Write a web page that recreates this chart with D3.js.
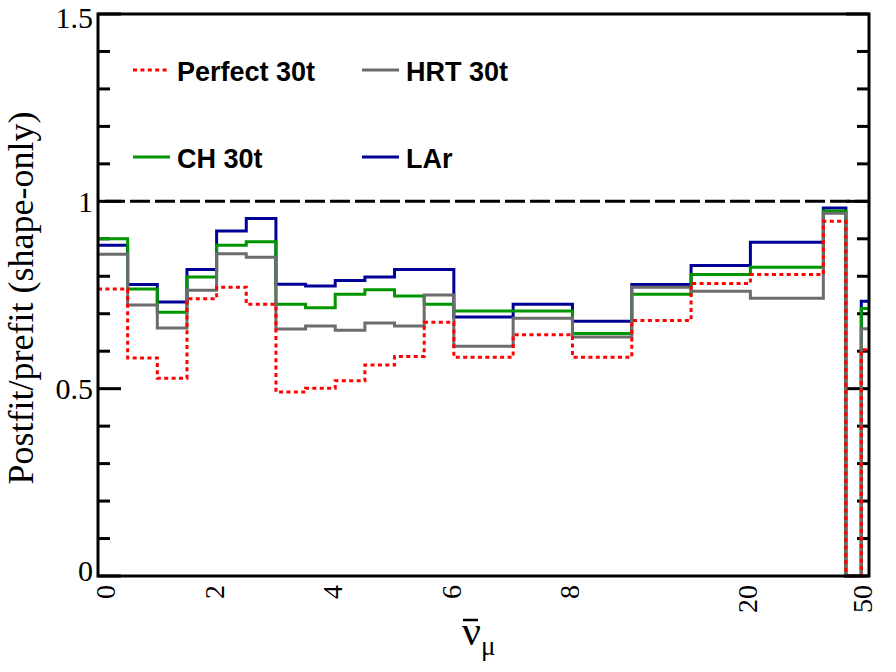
<!DOCTYPE html>
<html>
<head>
<meta charset="utf-8">
<title>Postfit/prefit (shape-only)</title>
<script src="https://d3js.org/d3.v7.min.js"></script>
<style>
  body { margin: 0; background: #fff; }
</style>
</head>
<body>
<div id="chart"></div>
<script>
// bin edges in axis units (the axis is drawn bin-by-bin, labels are custom)
const binEdges = [0, 0.5, 1, 1.5, 2, 2.5, 3, 3.5, 4, 4.5, 5, 5.5, 6, 7, 8, 9, 10, 11, 12.23, 12.61, 12.87, 13];

const perfect30t = [0.766, 0.582, 0.528, 0.740, 0.771, 0.725, 0.491, 0.501, 0.521, 0.563, 0.586, 0.677, 0.584, 0.644, 0.584, 0.682, 0.781, 0.805, 0.947, 0, 0.604];
const hrt30t     = [0.859, 0.723, 0.662, 0.763, 0.860, 0.851, 0.659, 0.667, 0.656, 0.675, 0.667, 0.750, 0.613, 0.688, 0.638, 0.771, 0.760, 0.741, 0.968, 0, 0.660];
const ch30t      = [0.900, 0.766, 0.704, 0.798, 0.883, 0.892, 0.725, 0.716, 0.752, 0.764, 0.747, 0.725, 0.707, 0.707, 0.647, 0.752, 0.805, 0.824, 0.974, 0, 0.714];
const lar        = [0.883, 0.778, 0.731, 0.818, 0.921, 0.954, 0.779, 0.774, 0.789, 0.798, 0.818, 0.818, 0.691, 0.725, 0.680, 0.778, 0.829, 0.891, 0.982, 0, 0.733];

const xTickPos    = [0.17, 2, 4, 6, 8, 11, 12.93];
const xTickLabels = ['0', '2', '4', '6', '8', '20', '50'];
const yTickValues = [0, 0.5, 1, 1.5];
const yTickLabels = ['0', '0.5', '1', '1.5'];

const width = 896, height = 672;
const margin = { top: 14, right: 27, bottom: 96, left: 98 };

const svg = d3.select('#chart')
  .append('svg')
    .attr('width', width)
    .attr('height', height)
    .style('background', '#fff');

const x = d3.scaleLinear().domain([0, 13]).range([margin.left, width - margin.right]);
const y = d3.scaleLinear().domain([0, 1.5]).range([height - margin.bottom, margin.top]);

// y ticks, inward on both sides
const minor = y.ticks(15).filter(v => !yTickValues.some(m => Math.abs(m - v) < 1e-6));
[[x(0), 1], [x(13), -1]].forEach(([x0, dir]) => {
  svg.append('g').selectAll('line')
    .data(minor)
    .join('line')
      .attr('x1', x0).attr('x2', x0 + dir * 12)
      .attr('y1', d => y(d)).attr('y2', d => y(d))
      .attr('stroke', '#000').attr('stroke-width', 3);
  svg.append('g').selectAll('line')
    .data(yTickValues)
    .join('line')
      .attr('x1', x0).attr('x2', x0 + dir * 23)
      .attr('y1', d => y(d)).attr('y2', d => y(d))
      .attr('stroke', '#000').attr('stroke-width', 3);
});

// y tick labels (end labels kept inside the page)
svg.append('g').selectAll('text')
  .data(yTickValues)
  .join('text')
    .attr('x', x(0) - 5)
    .attr('y', d => Math.min(Math.max(y(d), 17), 570))
    .attr('dy', '0.35em')
    .attr('text-anchor', 'end')
    .attr('font-family', '"Liberation Serif", "Times New Roman", serif')
    .attr('font-size', 30)
    .text((d, i) => yTickLabels[i]);

// x tick labels, rotated
svg.append('g').selectAll('text')
  .data(xTickPos)
  .join('text')
    .attr('transform', d => `translate(${x(d)},${height - margin.bottom + 9}) rotate(-90)`)
    .attr('dy', '0.25em')
    .attr('text-anchor', 'end')
    .attr('font-family', '"Liberation Serif", "Times New Roman", serif')
    .attr('font-size', 28)
    .text((d, i) => xTickLabels[i]);

// reference line at 1
svg.append('line')
  .attr('x1', x(0)).attr('x2', x(13))
  .attr('y1', y(1)).attr('y2', y(1))
  .attr('stroke', '#000')
  .attr('stroke-width', 3)
  .attr('stroke-dasharray', '20,5')
  .attr('stroke-dashoffset', -7);

const series = [
  { name: 'LAr',         values: lar,        color: '#000096', dash: null },
  { name: 'CH 30t',      values: ch30t,      color: '#009600', dash: null },
  { name: 'HRT 30t',     values: hrt30t,     color: '#6c6c6c', dash: null },
  { name: 'Perfect 30t', values: perfect30t, color: '#ff0000', dash: '4,3.4' }
];

const line = d3.line()
  .x(d => x(d[0]))
  .y(d => y(d[1]))
  .curve(d3.curveStepAfter);

svg.append('g').selectAll('path')
  .data(series)
  .join('path')
    .attr('d', s => line(binEdges.map((e, i) => [e, s.values[Math.min(i, s.values.length - 1)]])))
    .attr('fill', 'none')
    .attr('stroke', s => s.color)
    .attr('stroke-width', 3)
    .attr('stroke-dasharray', s => s.dash);

// frame
svg.append('rect')
  .attr('x', x(0)).attr('y', y(1.5))
  .attr('width', x(13) - x(0)).attr('height', y(0) - y(1.5))
  .attr('fill', 'none')
  .attr('stroke', '#000')
  .attr('stroke-width', 3);

// legend
const legendOrder = ['Perfect 30t', 'HRT 30t', 'CH 30t', 'LAr'];
const legendCols = [133, 362], legendRows = [70, 157];
const lg = svg.append('g').selectAll('g')
  .data(legendOrder.map(n => series.find(s => s.name === n)))
  .join('g')
    .attr('transform', (d, i) => `translate(${legendCols[i % 2]},${legendRows[Math.floor(i / 2)]})`);
lg.append('line')
  .attr('x1', 0).attr('x2', 37)
  .attr('stroke', d => d.color)
  .attr('stroke-width', 3)
  .attr('stroke-dasharray', d => d.dash);
lg.append('text')
  .attr('x', 44)
  .attr('y', 11)
  .attr('font-family', '"Liberation Sans", Arial, sans-serif')
  .attr('font-weight', 'bold')
  .attr('font-size', 27)
  .text(d => d.name);

// axis titles
svg.append('text')
  .attr('transform', `translate(33,298) rotate(-90)`)
  .attr('text-anchor', 'middle')
  .attr('font-family', '"Liberation Serif", "Times New Roman", serif')
  .attr('font-size', 36)
  .text('Postfit/prefit (shape-only)');

const xt = svg.append('text')
  .attr('x', 462)
  .attr('y', 645)
  .attr('font-family', '"Liberation Serif", "Times New Roman", serif');
xt.append('tspan').attr('font-size', 42).text('ν');
xt.append('tspan').attr('font-size', 27).attr('dy', 10).text('μ');
// bar over the nu
svg.append('line')
  .attr('x1', 463).attr('x2', 478)
  .attr('y1', 620).attr('y2', 620)
  .attr('stroke', '#000')
  .attr('stroke-width', 2.5);
</script>
</body>
</html>
